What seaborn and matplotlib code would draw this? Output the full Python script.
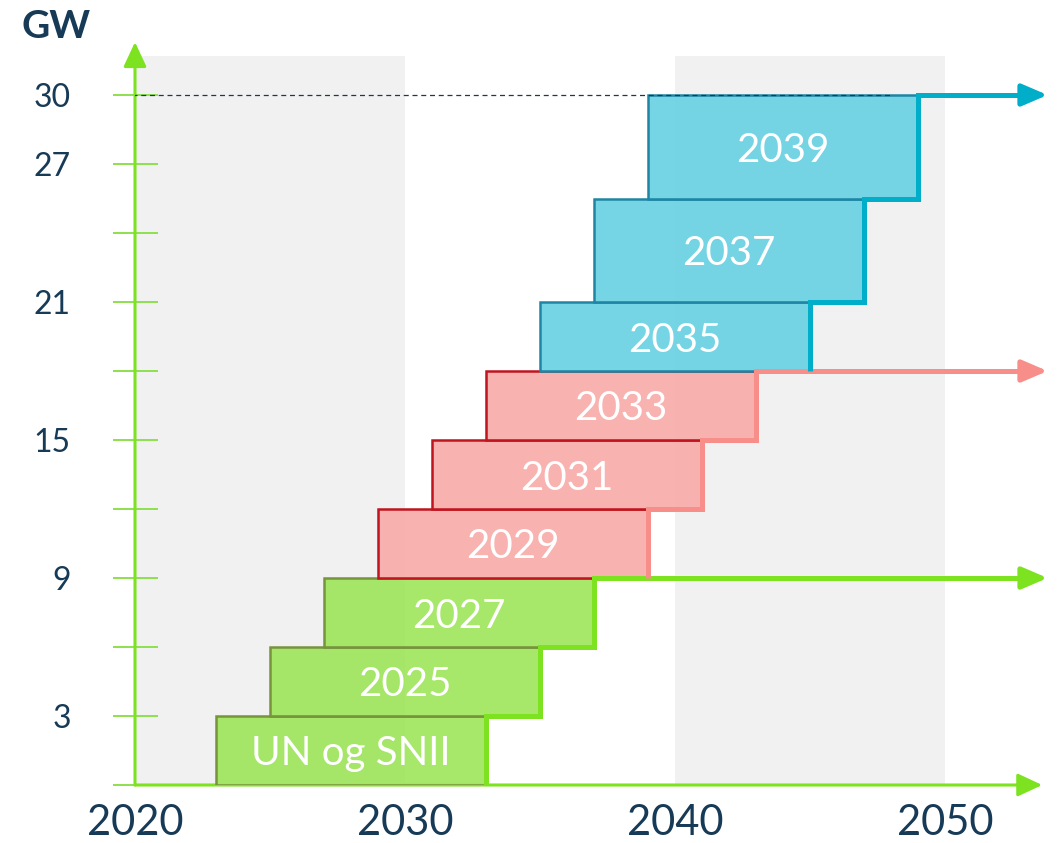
import matplotlib
matplotlib.use("Agg")
import matplotlib.pyplot as plt
from matplotlib.colors import to_rgba
import seaborn as sns

# Capacity blocks: each runs for ten years from its start year
block_start = [2023, 2025, 2027, 2029, 2031, 2033, 2035, 2037, 2039]
block_gw = [3, 3, 3, 3, 3, 3, 3, 4.5, 4.5]
block_labels = ["UN og SNII", "2025", "2027", "2029", "2031", "2033", "2035", "2037", "2039"]
block_group = ["green", "green", "green", "red", "red", "red", "blue", "blue", "blue"]
block_years = 10

y_ticks = [0, 3, 6, 9, 12, 15, 18, 21, 24, 27, 30]
y_tick_labels = ["", "3", "", "9", "", "15", "", "21", "", "27", "30"]
x_ticks = [2020, 2030, 2040, 2050]
x_tick_labels = ["2020", "2030", "2040", "2050"]
shaded_decades = [(2020, 2030), (2040, 2050)]
target_gw = 30

fill_colors = {"green": "#A0E65E", "red": "#F8ACAA", "blue": "#6BD2E3"}
edge_colors = {"green": "#77933C", "red": "#C0141E", "blue": "#1E86A4"}
step_colors = {"green": "#7DE21F", "red": "#F88E8A", "blue": "#00AECA"}
navy = "#173A57"
axis_green = "#7DE21F"
tick_green = "#8EE04F"

sns.set_theme(style="white")
plt.rcParams["font.family"] = ["Lato", "DejaVu Sans"]

W, H = 1058, 843
fig = plt.figure(figsize=(W / 100, H / 100), dpi=100)
ax = fig.add_axes([135 / W, 58 / H, 1 - 135 / W, 1 - 58 / H])
ax.set_xlim(2020, 2020 + (W - 135) / 27)
ax.set_ylim(0, 785 / 23)
for s in ax.spines.values():
    s.set_visible(False)
ax.set_facecolor("none")

# Shaded decades
band_top = 31.7
for x0, x1 in shaded_decades:
    ax.fill_between([x0, x1], 0, band_top, color="#F1F1F1", lw=0, zorder=0)

# Blocks
bottoms = []
acc = 0
for g in block_gw:
    bottoms.append(acc)
    acc += g
ax.bar(block_start, block_gw, width=block_years, bottom=bottoms, align="edge",
       color=[to_rgba(fill_colors[g], 0.93) for g in block_group],
       edgecolor=[edge_colors[g] for g in block_group], linewidth=1.8, zorder=3)

for x0, b, h, lab in zip(block_start, bottoms, block_gw, block_labels):
    ax.text(x0 + block_years / 2, b + h / 2, lab, ha="center", va="center_baseline",
            color="white", fontsize=29, zorder=5)

# Target line
ax.hlines(target_gw, 2019.9, 2048.0, color=navy, lw=0.9, ls=(0, (4, 3)), zorder=3.5)

# Step outlines per group with an arrow to the right edge
arrow_end = 2053.8
for grp in ["green", "red", "blue"]:
    idx = [i for i, g in enumerate(block_group) if g == grp]
    xs, ys = [], []
    for k, i in enumerate(idx):
        end = block_start[i] + block_years
        xs += [end, end]
        ys += [bottoms[i], bottoms[i] + block_gw[i]]
        if k + 1 < len(idx):
            nxt = block_start[idx[k + 1]] + block_years
            xs.append(nxt)
            ys.append(bottoms[i] + block_gw[i])
    col = step_colors[grp]
    ax.plot(xs + [arrow_end - 0.4], ys + [ys[-1]], color=col, lw=3.6,
            solid_joinstyle="miter", solid_capstyle="butt", zorder=4, clip_on=False)
    ax.annotate("", xy=(arrow_end, ys[-1]), xytext=(arrow_end - 0.7, ys[-1]),
                arrowprops=dict(arrowstyle="-|>,head_length=0.7,head_width=0.3",
                                color=col, lw=3.6, mutation_scale=22,
                                shrinkA=0, shrinkB=0),
                annotation_clip=False, zorder=4)

# Axis arrows
ax.annotate("", xy=(2053.6, 0), xytext=(2020, 0),
            arrowprops=dict(arrowstyle="-|>,head_length=0.75,head_width=0.35",
                            color=axis_green, lw=2.2, mutation_scale=20,
                            shrinkA=0, shrinkB=0),
            annotation_clip=False, zorder=2)
ax.annotate("", xy=(2020, 32.3), xytext=(2020, 0),
            arrowprops=dict(arrowstyle="-|>,head_length=0.75,head_width=0.35",
                            color=axis_green, lw=2.2, mutation_scale=20,
                            shrinkA=0, shrinkB=0),
            annotation_clip=False, zorder=2)

# Ticks
ax.set_yticks(y_ticks)
ax.set_yticklabels(y_tick_labels)
ax.tick_params(axis="y", direction="inout", length=32.4, width=1.4,
               color=tick_green, labelcolor=navy, labelsize=23, pad=30, left=True)
ax.set_xticks(x_ticks)
ax.set_xticklabels(x_tick_labels)
ax.tick_params(axis="x", length=0, labelcolor=navy, labelsize=30, pad=14)
ax.grid(False)

fig.text(56 / W, 1 - 26 / H, "GW", ha="center", va="center", color=navy,
         fontsize=28, fontweight="bold")

fig.savefig("out.png", dpi=100)
